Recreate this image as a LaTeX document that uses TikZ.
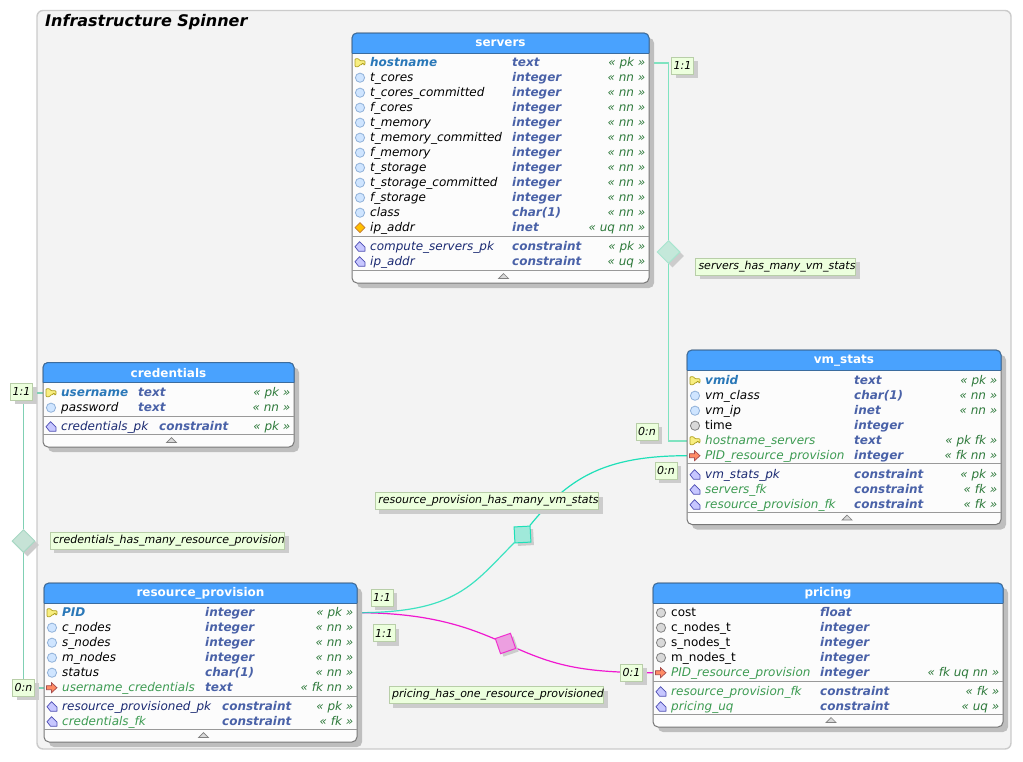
\documentclass[tikz,border=0pt]{standalone}
\usepackage{fontspec}
\setmainfont{DejaVu Sans}
\usetikzlibrary{shadows,shapes.geometric}
\pgfdeclarelayer{background}
\pgfdeclarelayer{connect}
\pgfsetlayers{background,connect,main}
\definecolor{panefill}{HTML}{F3F3F3}
\definecolor{paneline}{HTML}{CBCBCB}
\definecolor{headblue}{HTML}{49A2FE}
\definecolor{headline}{HTML}{3B6C9E}
\definecolor{rowfill}{HTML}{FCFCFC}
\definecolor{tableline}{HTML}{777777}
\definecolor{sepline}{HTML}{999999}
\definecolor{shadowgray}{HTML}{BEBEBE}
\definecolor{notefill}{HTML}{ECFFDD}
\definecolor{noteline}{HTML}{B8CEA8}
\definecolor{pkblue}{HTML}{2A78B8}
\definecolor{fkgreen}{HTML}{3D9B52}
\definecolor{consnavy}{HTML}{1B2A72}
\definecolor{typeblue}{HTML}{4A62A8}
\definecolor{tagblue}{HTML}{2F7A3C}
\definecolor{servline}{HTML}{7FE3C0}
\definecolor{credline}{HTML}{80D0B4}
\definecolor{provline}{HTML}{1EE0B8}
\definecolor{priceline}{HTML}{F018D0}
\definecolor{nnfill}{HTML}{CFE5FF}
\definecolor{nnline}{HTML}{8FB0D8}
\definecolor{keyfill}{HTML}{F8EE80}
\definecolor{keyline}{HTML}{B0A020}
\definecolor{servfill}{HTML}{C4E8DA}
\definecolor{servdraw}{HTML}{A8E5CF}
\definecolor{credfill}{HTML}{C6E3D6}
\definecolor{creddraw}{HTML}{A8D8C4}
\definecolor{provfill}{HTML}{A0E9DA}
\definecolor{pricefill}{HTML}{EC9FE0}
\definecolor{pricedraw}{HTML}{F030D0}
\tikzstyle{rowfont}=[inner sep=0pt, font=\fontsize{12}{14}\selectfont\itshape]
\tikzstyle{dbplain}=[rowfont, font=\fontsize{12}{14}\selectfont, text=black]
\tikzstyle{dbnull}=[rowfont, text=black]
\tikzstyle{dbpk}=[rowfont, font=\fontsize{12}{14}\selectfont\itshape\bfseries, text=pkblue]
\tikzstyle{dbfk}=[rowfont, text=fkgreen]
\tikzstyle{dbcn}=[rowfont, text=consnavy]
\tikzstyle{dbtype}=[rowfont, font=\fontsize{12}{14}\selectfont\itshape\bfseries, text=typeblue]
\tikzstyle{dbtag}=[rowfont, text=tagblue]
\tikzstyle{dbtitle}=[inner sep=0pt, text=white, font=\fontsize{12}{14}\selectfont\bfseries]
\tikzstyle{dbbox}=[draw=tableline, fill=rowfill, line width=1pt, rounded corners=5pt, inner sep=0pt,
  drop shadow={shadow xshift=5pt, shadow yshift=-5pt, fill=shadowgray, opacity=1}]
\tikzstyle{note}=[draw=noteline, fill=notefill, line width=1pt, inner sep=0pt, minimum height=17pt,
  text=black, font=\fontsize{11}{13}\selectfont\itshape,
  drop shadow={shadow xshift=4pt, shadow yshift=-4pt, fill=black!20, opacity=1}]
\tikzstyle{card}=[note, minimum width=22pt]
\tikzstyle{relation}=[note, minimum width=6pt, text depth=3pt, text height=8pt]
\tikzstyle{reldiamond}=[diamond, aspect=1, inner sep=0pt, minimum size=23pt, line width=1pt,
  drop shadow={shadow xshift=4pt, shadow yshift=-4pt, fill=black!20, opacity=1}]
\tikzstyle{relsquare}=[inner sep=0pt, minimum size=16pt, line width=1pt,
  drop shadow={shadow xshift=3pt, shadow yshift=-3pt, fill=black!20, opacity=1}]
\tikzstyle{line}=[draw, line width=1.2pt]
\tikzstyle{straight}=[draw, line width=1.8pt]
% row icons, #1 and #2 are the centre
\newcommand{\iconpk}[2]{\draw [shift={({#1},#2)}, draw=keyline, fill=keyfill, line width=.7pt, rounded corners=.8pt]
  (-5,-4) -- (-1.5,-4) -- (0,-2) -- (5,-2) -- (5,2) -- (3.6,2) -- (3.6,.6) -- (2,.6) -- (2,2) -- (0,2) -- (-1.5,4) -- (-5,4) -- cycle;}
\newcommand{\iconfk}[2]{\draw [shift={({#1},#2)}, draw=red!50!black!70, fill=red!50!orange!60!white, line width=.7pt]
  (-5.5,-2) -- (-.5,-2) -- (-.5,-5) -- (5,0) -- (-.5,5) -- (-.5,2) -- (-5.5,2) -- cycle;}
\newcommand{\iconnn}[2]{\draw [draw=nnline, fill=nnfill, line width=.8pt] ({#1},#2) circle (4.6pt);}
\newcommand{\iconplain}[2]{\draw [draw=black!50, fill=black!15, line width=.8pt] ({#1},#2) circle (4.6pt);}
\newcommand{\iconuq}[2]{\draw [shift={({#1},#2)}, draw=orange!70!black!80, fill=orange!50!yellow, line width=.7pt] (-5,0) -- (0,-5) -- (5,0) -- (0,5) -- cycle;}
\newcommand{\iconcn}[2]{\draw [shift={({#1},#2)}, draw=blue!40!gray, fill=blue!22!white, line width=.7pt, line join=round]
  (-5,0) -- (-.5,-5) -- (5,.5) -- (5,4.5) -- (-1.5,4.5) -- cycle;}
% table frame with title, foot and collapse mark
\newcommand{\dbtable}[6]{%
  \def\tableleft{#2}\def\tableright{#4}
  \pgfmathsetmacro\tablew{#4-#2}
  \pgfmathsetmacro\tableh{#5-#3}
  \node (#1) [dbbox, minimum width=\tablew pt, minimum height=\tableh pt] at ({(#2+#4)/2},{(#3+#5)/2}) {};
  \fill [headblue, rounded corners=5pt] (#2,#3+20) -- (#2,#3) -- (#4,#3) -- (#4,#3+20);
  \draw [headline, line width=1pt, rounded corners=5pt] (#2,#3+20) -- (#2,#3) -- (#4,#3) -- (#4,#3+20);
  \draw [headline, line width=1pt] (#2,#3+20) -- (#4,#3+20);
  \node (#1TITLE) [dbtitle] at ({(#2+#4)/2},#3+10.5) {#6};
  \draw [sepline, line width=1pt] (#2,#5-12.5) -- (#4,#5-12.5);
  \draw [draw=black!50, fill=black!15, line width=.7pt]
    ({(#2+#4)/2-2},#5-4.5) -- ({(#2+#4)/2+8},#5-4.5) -- ({(#2+#4)/2+3},#5-9.5) -- cycle;
}
\newcommand{\dbsep}[1]{\draw [sepline, line width=1pt] (\tableleft,#1) -- (\tableright,#1);}
\newcommand{\dbrow}[8]{%
  \coordinate (#1W) at (\tableleft,#2+.7);
  \coordinate (#1E) at (\tableright,#2+.7);
  #3{\tableleft+8}{#2+.7}
  \node (#1) [#4, anchor=mid west] at (\tableleft+18,#2+2) {#5};
  \node (#1T) [dbtype, anchor=mid west] at (#6,#2+2) {#7};
  \node (#1C) [dbtag, anchor=mid east] at (\tableright-3.5,#2+2) {#8};
}
\newcommand{\notelabel}[2]{node (#1) [relation] {\hspace{3pt}#2\hspace{3pt}}}
\newcommand{\cardlabel}[2]{node (#1) [card] {#2}}
\begin{document}
\begin{tikzpicture}[x=1pt,y=-1pt]
  \useasboundingbox (0,0) rectangle (1023,761);

  % group pane
  \begin{pgfonlayer}{background}
    \path [fill=panefill, draw=paneline, line width=1.4pt, rounded corners=6pt] (37,10.5) rectangle (1011,749);
  \end{pgfonlayer}
  \node (GROUP) [inner sep=0pt, anchor=mid west, font=\fontsize{16}{18}\selectfont\itshape\bfseries] at (45,23.5) {Infrastructure Spinner};

  % servers table
  \dbtable{SERVERS}{352}{33}{649}{283}{servers}
  \dbrow{SHOST}{62}{\iconpk}{dbpk}{hostname}{512}{text}{« pk »}
  \dbrow{STCORES}{77}{\iconnn}{dbnull}{t\_cores}{512}{integer}{« nn »}
  \dbrow{STCOMM}{92}{\iconnn}{dbnull}{t\_cores\_committed}{512}{integer}{« nn »}
  \dbrow{SFCORES}{107}{\iconnn}{dbnull}{f\_cores}{512}{integer}{« nn »}
  \dbrow{STMEM}{122}{\iconnn}{dbnull}{t\_memory}{512}{integer}{« nn »}
  \dbrow{STMEMC}{137}{\iconnn}{dbnull}{t\_memory\_committed}{512}{integer}{« nn »}
  \dbrow{SFMEM}{152}{\iconnn}{dbnull}{f\_memory}{512}{integer}{« nn »}
  \dbrow{STSTO}{167}{\iconnn}{dbnull}{t\_storage}{512}{integer}{« nn »}
  \dbrow{STSTOC}{182}{\iconnn}{dbnull}{t\_storage\_committed}{512}{integer}{« nn »}
  \dbrow{SFSTO}{197}{\iconnn}{dbnull}{f\_storage}{512}{integer}{« nn »}
  \dbrow{SCLASS}{212}{\iconnn}{dbnull}{class}{512}{char(1)}{« nn »}
  \dbrow{SIP}{227}{\iconuq}{dbnull}{ip\_addr}{512}{inet}{« uq nn »}
  \dbsep{236.5}
  \dbrow{SPK}{246}{\iconcn}{dbcn}{compute\_servers\_pk}{512}{constraint}{« pk »}
  \dbrow{SUQ}{261}{\iconcn}{dbcn}{ip\_addr}{512}{constraint}{« uq »}

  % credentials table
  \dbtable{CREDENTIALS}{43}{362.5}{294}{447}{credentials}
  \dbrow{CUSER}{392}{\iconpk}{dbpk}{username}{138}{text}{« pk »}
  \dbrow{CPASS}{407}{\iconnn}{dbnull}{password}{138}{text}{« nn »}
  \dbsep{416}
  \dbrow{CPK}{426}{\iconcn}{dbcn}{credentials\_pk}{159}{constraint}{« pk »}

  % resource_provision table
  \dbtable{PROVISION}{44}{583}{357}{742}{resource\_provision}
  \dbrow{RPID}{612}{\iconpk}{dbpk}{PID}{205}{integer}{« pk »}
  \dbrow{RCN}{627}{\iconnn}{dbnull}{c\_nodes}{205}{integer}{« nn »}
  \dbrow{RSN}{642}{\iconnn}{dbnull}{s\_nodes}{205}{integer}{« nn »}
  \dbrow{RMN}{657}{\iconnn}{dbnull}{m\_nodes}{205}{integer}{« nn »}
  \dbrow{RSTATUS}{672}{\iconnn}{dbnull}{status}{205}{char(1)}{« nn »}
  \dbrow{RUSER}{687}{\iconfk}{dbfk}{username\_credentials}{205}{text}{« fk nn »}
  \dbsep{696.5}
  \dbrow{RPK}{706}{\iconcn}{dbcn}{resource\_provisioned\_pk}{222}{constraint}{« pk »}
  \dbrow{RFK}{721}{\iconcn}{dbfk}{credentials\_fk}{222}{constraint}{« fk »}

  % vm_stats table
  \dbtable{VMSTATS}{687}{350}{1001}{524.5}{vm\_stats}
  \dbrow{VID}{380}{\iconpk}{dbpk}{vmid}{854}{text}{« pk »}
  \dbrow{VCLASS}{395}{\iconnn}{dbnull}{vm\_class}{854}{char(1)}{« nn »}
  \dbrow{VIP}{410}{\iconnn}{dbnull}{vm\_ip}{854}{inet}{« nn »}
  \dbrow{VTIME}{425}{\iconplain}{dbplain}{time}{854}{integer}{}
  \dbrow{VHOST}{440}{\iconpk}{dbfk}{hostname\_servers}{854}{text}{« pk fk »}
  \dbrow{VPID}{455}{\iconfk}{dbfk}{PID\_resource\_provision}{854}{integer}{« fk nn »}
  \dbsep{463.5}
  \dbrow{VPK}{474}{\iconcn}{dbcn}{vm\_stats\_pk}{854}{constraint}{« pk »}
  \dbrow{VSFK}{489}{\iconcn}{dbfk}{servers\_fk}{854}{constraint}{« fk »}
  \dbrow{VRFK}{504}{\iconcn}{dbfk}{resource\_provision\_fk}{854}{constraint}{« fk »}

  % pricing table
  \dbtable{PRICING}{653}{583}{1003}{727}{pricing}
  \dbrow{PCOST}{612}{\iconplain}{dbplain}{cost}{820}{float}{}
  \dbrow{PCN}{627}{\iconplain}{dbplain}{c\_nodes\_t}{820}{integer}{}
  \dbrow{PSN}{642}{\iconplain}{dbplain}{s\_nodes\_t}{820}{integer}{}
  \dbrow{PMN}{657}{\iconplain}{dbplain}{m\_nodes\_t}{820}{integer}{}
  \dbrow{PPID}{672}{\iconfk}{dbfk}{PID\_resource\_provision}{820}{integer}{« fk uq nn »}
  \dbsep{681.5}
  \dbrow{PFK}{691}{\iconcn}{dbfk}{resource\_provision\_fk}{820}{constraint}{« fk »}
  \dbrow{PUQ}{706}{\iconcn}{dbfk}{pricing\_uq}{820}{constraint}{« uq »}

  % relationship marks
  \node (SERVDIAMOND) [reldiamond, draw=servdraw, fill=servfill] at (668.5,252) {};
  \node (CREDDIAMOND) [reldiamond, draw=creddraw, fill=credfill] at (23.5,541) {};
  \node (PROVSQUARE) [relsquare, draw=provline, fill=provfill, rotate=3] at (522.5,534.5) {};
  \node (PRICESQUARE) [relsquare, draw=pricedraw, fill=pricefill, rotate=19] at (505.5,643.5) {};

  % cardinalities
  \path (682.5,65.5) \cardlabel {SERVCARD}{1:1};
  \path (647,431.5) \cardlabel {VMCARD}{0:n};
  \path (666,470.5) \cardlabel {VPIDCARD}{0:n};
  \path (382,597.5) \cardlabel {RPIDCARD}{1:1};
  \path (384,633) \cardlabel {RPRICECARD}{1:1};
  \path (631.5,672.5) \cardlabel {PPIDCARD}{0:1};
  \path (21.5,391.5) \cardlabel {CREDCARD}{1:1};
  \path (23.5,687.5) \cardlabel {RUSERCARD}{0:n};

  % relationship names
  \path (775.5,266.5) \notelabel {SERVNOTE}{servers\_has\_many\_vm\_stats};
  \path (167.5,540.5) \notelabel {CREDNOTE}{credentials\_has\_many\_resource\_provision};
  \path (487,501) \notelabel {PROVNOTE}{resource\_provision\_has\_many\_vm\_stats};
  \path (496.5,695) \notelabel {PRICENOTE}{pricing\_has\_one\_resource\_provisioned};

  % connectors
  \begin{pgfonlayer}{connect}
    \path [straight, color=servline] (SHOSTE) -| (SERVDIAMOND);
    \path [straight, color=servline] (SERVDIAMOND) |- (VHOSTW);
    \path [straight, color=credline] (CUSERW) -| (CREDDIAMOND);
    \path [straight, color=credline] (CREDDIAMOND) |- (RUSERW);
    \path [line, color=priceline] (RPIDE) .. controls +(70,0) and +(-40,-17) .. (PRICESQUARE);
    \path [line, color=priceline] (PRICESQUARE) .. controls +(50,22) and +(-70,0) .. (PPIDW);
    \path [line, color=provline, opacity=.85] (RPIDE) .. controls +(100,0) and +(-50,50) .. (PROVSQUARE);
    \path [line, color=provline] (PROVSQUARE) .. controls +(45,-55) and +(-85,0) .. (VPIDW);
  \end{pgfonlayer}
\end{tikzpicture}
\end{document}
